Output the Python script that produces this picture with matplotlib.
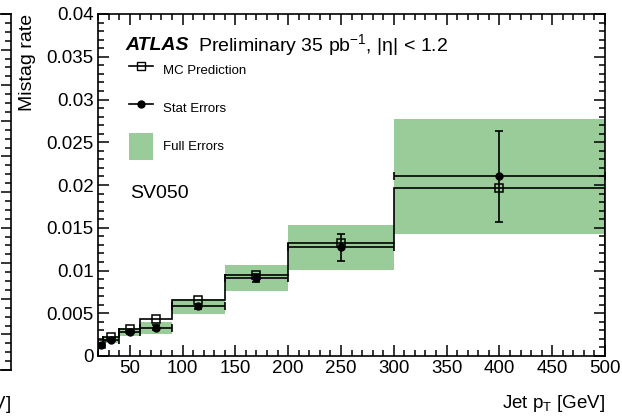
import matplotlib
matplotlib.use("Agg")
import matplotlib.pyplot as plt
import numpy as np
from matplotlib.lines import Line2D
from matplotlib.patches import Patch
from matplotlib.ticker import MultipleLocator, FuncFormatter

plt.rcParams["font.family"] = ["Liberation Sans", "DejaVu Sans"]
plt.rcParams["mathtext.fontset"] = "custom"
plt.rcParams["mathtext.rm"] = "Liberation Sans"
plt.rcParams["mathtext.it"] = "Liberation Sans:italic"

# jet pT bins [GeV]
edges = np.array([20, 25, 40, 60, 90, 140, 200, 300, 500])
mc_rate = np.array([0.0014, 0.0022, 0.0031, 0.0043, 0.0066, 0.0095, 0.0132, 0.0196])
data_rate = np.array([0.0013, 0.0019, 0.0028, 0.0033, 0.0058, 0.0091, 0.0127, 0.0210])
stat_err = np.array([0.0002, 0.0002, 0.0002, 0.0003, 0.0003, 0.0005, 0.0016, 0.0053])
full_err = np.array([0.0003, 0.00035, 0.00047, 0.0007, 0.0009, 0.0015, 0.0026, 0.0067])

centers = 0.5 * (edges[:-1] + edges[1:])
half_w = 0.5 * np.diff(edges)

band_color = "#99cc99"
xlabel = r"Jet p$_{\mathrm{T}}$ [GeV]"

W, H = 622, 418
fig = plt.figure(figsize=(W / 100, H / 100), dpi=100)

# edge of the neighbouring panel, mostly off the canvas
nb = fig.add_axes([-0.8, (H - 370) / H, 0.8 + 11 / W, (370 - 14) / H])
nb.set_xlim(0, 1)
nb.set_ylim(0, 1)
nb.yaxis.set_major_locator(MultipleLocator(0.1))
nb.yaxis.set_minor_locator(MultipleLocator(0.025))
nb.tick_params(axis="y", which="both", direction="in", right=True, left=False,
               labelleft=False, width=1.1)
nb.tick_params(axis="y", which="major", length=7)
nb.tick_params(axis="y", which="minor", length=4)
nb.tick_params(axis="x", bottom=False, labelbottom=False)
for s in nb.spines.values():
    s.set_linewidth(1.2)
nb.text(1.0, -0.098, xlabel, transform=nb.transAxes, ha="right", va="center",
        fontsize=13.5)

ax = fig.add_axes([98 / W, (H - 356) / H, (605 - 98) / W, (356 - 14) / H])

# full error band
ax.stairs(data_rate + full_err, edges, baseline=data_rate - full_err, fill=True,
          color=band_color, lw=0)

# MC prediction histogram
ax.stairs(mc_rate, edges, color="black", lw=1.2)
ax.plot(centers, mc_rate, ls="none", marker="s", ms=6, mfc="none", mec="black", mew=1.1)

# data with statistical errors
ax.errorbar(centers, data_rate, xerr=half_w, yerr=stat_err, fmt="o", color="black",
            ms=5, lw=1.2, capsize=3, capthick=1.2)

ax.set_xlim(20, 500)
ax.set_ylim(0, 0.04)
ax.xaxis.set_major_locator(MultipleLocator(50))
ax.xaxis.set_minor_locator(MultipleLocator(10))
ax.yaxis.set_major_locator(MultipleLocator(0.005))
ax.yaxis.set_minor_locator(MultipleLocator(0.001))
ax.yaxis.set_major_formatter(FuncFormatter(lambda v, p: "%g" % round(v, 4)))
ax.tick_params(which="both", direction="in", top=True, right=True, width=1.1,
               labelsize=13.5)
ax.tick_params(which="major", length=8, pad=3)
ax.tick_params(which="minor", length=4.5)
for s in ax.spines.values():
    s.set_linewidth(1.2)

ax.set_ylabel("Mistag rate", loc="top", fontsize=14)
ax.yaxis.set_label_coords(-0.122, 1.0)
ax.set_xlabel(xlabel, loc="right", fontsize=13.5)
ax.xaxis.set_label_coords(1.0, -0.108)

ax.text((125 - 98) / 507, (356 - 45) / 342, "ATLAS", transform=ax.transAxes,
        fontsize=14, fontweight="bold", fontstyle="italic", va="center")
ax.text((198 - 98) / 507, (356 - 45) / 342, "Preliminary 35 pb$^{-1}$, |η| < 1.2",
        transform=ax.transAxes, fontsize=14, va="center")
ax.text((130 - 98) / 507, (356 - 193) / 342, "SV050", transform=ax.transAxes,
        fontsize=14, va="center")

handles = [
    Line2D([], [], color="black", lw=1.2, marker="s", ms=6, mfc="none", mec="black"),
    Line2D([], [], color="black", lw=1.2, marker="o", ms=5),
    Patch(facecolor=band_color, edgecolor="none"),
]
ax.legend(handles, ["MC Prediction", "Stat Errors", "Full Errors"],
          loc="upper left", bbox_to_anchor=((129 - 98) / 507, (356 - 57) / 342),
          frameon=False, fontsize=9.5, handlelength=1.8, handleheight=2.77,
          handletextpad=0.8, labelspacing=0.82, borderpad=0, borderaxespad=0)

fig.savefig("out.png", dpi=100)
